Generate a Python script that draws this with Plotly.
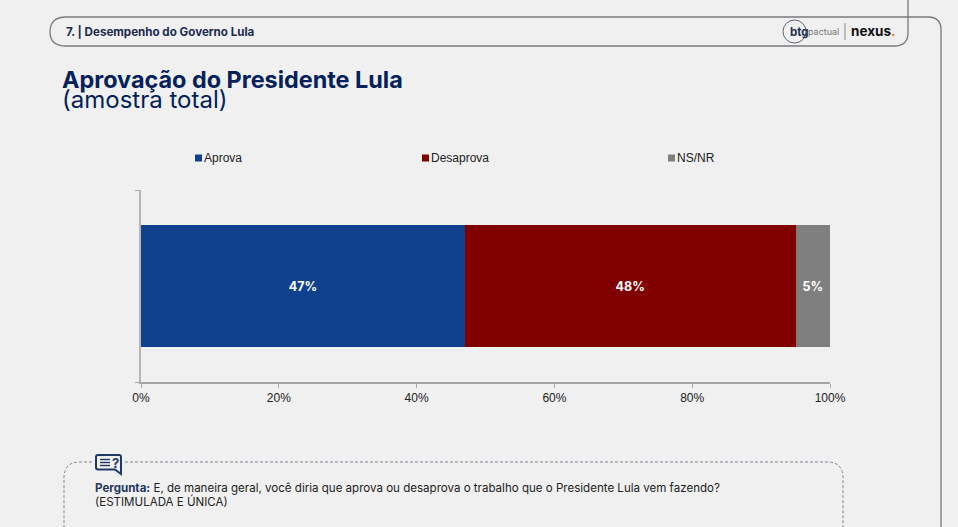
import plotly.graph_objects as go

# dados do gráfico
categorias = ["Aprova", "Desaprova", "NS/NR"]
valores = [47, 48, 5]
cores = ["#0F418F", "#800000", "#7F7F7F"]
ticks_x = [0, 20, 40, 60, 80, 100]
ticks_texto = ["0%", "20%", "40%", "60%", "80%", "100%"]
legenda_x = [195, 422, 668]

LARGURA = 958
ALTURA = 527
FONTE_TITULO = "Inter"
FONTE_GRAFICO = "Liberation Sans"
AZUL = "#04215C"
AZUL_ICONE = "#1F3864"


def px(x):
    return x / LARGURA


def py(y):
    return 1 - y / ALTURA


def caminho(pontos):
    # pontos em pixels da página -> path em coordenadas paper
    saida = []
    for cmd, coords in pontos:
        pares = [f"{px(coords[i])},{py(coords[i + 1])}" for i in range(0, len(coords), 2)]
        saida.append(cmd + " " + " ".join(pares))
    return " ".join(saida)


def texto(x, y, t, size, color="#222222", family=FONTE_TITULO, anchor="left"):
    return dict(xref="paper", yref="paper", x=px(x), y=py(y), text=t, showarrow=False,
                xanchor=anchor, yanchor="middle", align="left",
                font=dict(size=size, color=color, family=family))


fig = go.Figure()

for nome, valor, cor in zip(categorias, valores, cores):
    fig.add_trace(go.Bar(x=[valor], y=[0], name=nome, orientation="h", width=0.635,
                         marker=dict(color=cor, line=dict(width=0)),
                         text=[f"{valor}%"], textposition="inside", insidetextanchor="middle",
                         textangle=0, constraintext="none",
                         textfont=dict(color="white", size=12.5, family=FONTE_TITULO, weight=700)))

formas = [
    # contorno do cabeçalho
    dict(type="path", xref="paper", yref="paper", line=dict(color="#7A7A7A", width=1.3),
         path=caminho([("M", [908, 0]), ("L", [908, 33]), ("Q", [908, 46, 894, 46]), ("L", [66, 46]),
                       ("Q", [50, 46, 50, 32]), ("Q", [50, 17, 66, 17]), ("L", [928, 17]),
                       ("Q", [941, 17, 941, 30]), ("L", [941, 527])])),
    # caixa da pergunta
    dict(type="path", xref="paper", yref="paper", line=dict(color="#7C8494", width=1, dash="3px,2px"),
         path=caminho([("M", [92, 462]), ("L", [80, 462]), ("Q", [64, 462, 64, 478]), ("L", [64, 527]),
                       ("M", [125, 462]), ("L", [827, 462]), ("Q", [843, 462, 843, 478]), ("L", [843, 527])])),
    # ícone da pergunta
    dict(type="path", xref="paper", yref="paper", line=dict(color=AZUL_ICONE, width=2),
         path=caminho([("M", [98, 455]), ("L", [119, 455]), ("Q", [121, 455, 121, 457]), ("L", [121, 474]),
                       ("L", [115, 469.5]), ("L", [98, 469.5]), ("Q", [96, 469.5, 96, 467.5]), ("L", [96, 457]),
                       ("Q", [96, 455, 98, 455])])),
    # logo btg
    dict(type="circle", xref="paper", yref="paper", line=dict(color="#5A6472", width=1),
         x0=px(783), x1=px(806), y0=py(43), y1=py(20)),
    dict(type="line", xref="paper", yref="paper", line=dict(color="#888888", width=1),
         x0=px(845), x1=px(845), y0=py(23), y1=py(40)),
]

# quadrados da legenda
for lx, cor in zip(legenda_x, cores):
    formas.append(dict(type="rect", xref="paper", yref="paper", line=dict(width=0), fillcolor=cor,
                       x0=px(lx), x1=px(lx + 7), y0=py(161.5), y1=py(154.5)))
# linhas do ícone
for ly in [459.5, 462.5, 465.5]:
    formas.append(dict(type="line", xref="paper", yref="paper", line=dict(color=AZUL_ICONE, width=1.4),
                       x0=px(100), x1=px(110), y0=py(ly), y1=py(ly)))

anotacoes = [
    texto(64, 32, "<b>7. | Desempenho do Governo Lula</b>", 11.6, "#1B2B52"),
    texto(60, 79, "<b>Aprovação do Presidente Lula</b>", 23.4, AZUL),
    texto(60, 100, "(amostra total)", 24, AZUL),
    texto(93, 488, "<b><span style='color:#1F3864'>Pergunta:</span></b> E, de maneira geral, você diria que aprova "
                   "ou desaprova o trabalho que o Presidente Lula vem fazendo?", 11.55, "#222222"),
    texto(93, 501, "(ESTIMULADA E ÚNICA)", 11.55, "#222222"),
    texto(109.5, 462.5, "<b>?</b>", 13, AZUL_ICONE),
    texto(788, 32, "<b>btg</b>", 11.5, "#1F2F4F"),
    texto(806, 32, "pactual", 9, "#777777"),
    texto(849, 31, "<b>nexus<span style='color:#D9822B'>.</span></b>", 13.5, "#111111"),
]
for nome, lx in zip(categorias, legenda_x):
    anotacoes.append(texto(lx + 7, 158, nome, 12, "#222222", FONTE_GRAFICO))

fig.update_layout(
    width=LARGURA, height=ALTURA,
    margin=dict(l=0, r=0, t=0, b=0, autoexpand=False),
    paper_bgcolor="#F0F0F0", plot_bgcolor="#F0F0F0",
    barmode="stack", showlegend=False,
    xaxis=dict(domain=[px(141), px(830)], range=[0, 100], tickvals=ticks_x, ticktext=ticks_texto,
               showgrid=False, zeroline=False, showline=True, linecolor="#A6A6A6", linewidth=1.5,
               ticks="outside", ticklen=4, tickcolor="#A6A6A6", tickwidth=1,
               tickfont=dict(size=12, color="#222222", family=FONTE_GRAFICO)),
    yaxis=dict(domain=[py(382), py(190)], range=[-0.5, 0.5], tickvals=[-0.5, 0.5], ticktext=["", ""],
               showgrid=False, zeroline=False, showline=True, linecolor="#B5B5B5", linewidth=2,
               ticks="outside", ticklen=4, tickcolor="#A6A6A6", tickwidth=1),
    shapes=formas, annotations=anotacoes,
)

fig.write_html("out.html", config={"displayModeBar": False},
               post_script="document.body.style.margin='0';")
